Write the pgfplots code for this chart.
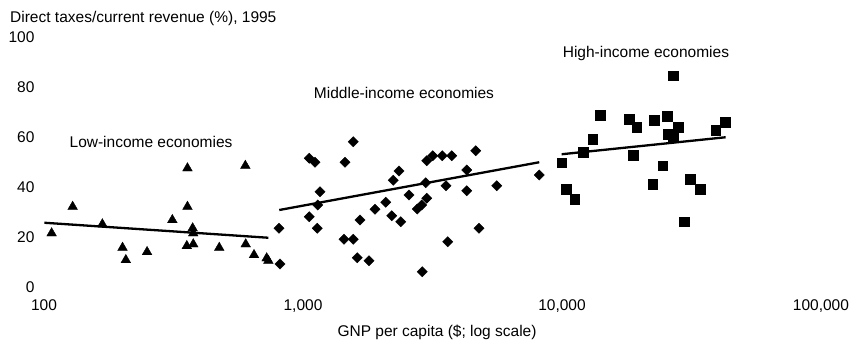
\documentclass[border=0pt]{standalone}
\usepackage{pgfplots}
\pgfplotsset{compat=1.18}
\usepackage{fontspec}
\setmainfont{Liberation Sans}
\newcommand\f{\fontsize{15.5}{18}\selectfont}
\begin{document}
\begin{tikzpicture}
\path[use as bounding box] (-38pt,-50pt) rectangle (815pt,292pt);
\begin{axis}[
  at={(0,0)}, anchor=south west,
  scale only axis, width=812pt, height=260pt,
  xmode=log, xmin=94.8, xmax=129500,
  ymin=-2, ymax=102,
  axis line style={draw=none},
  major tick length=0pt, minor tick length=0pt,
  xtick={100,1000,10000,100000},
  xticklabels={100,{1,000},{10,000},{100,000}},
  minor xtick={},
  ytick={0,20,40,60,80,100},
  yticklabels={0,20,40,60,80,100},
  tick label style={font=\f},
  xticklabel style={yshift=-4pt},
  clip=false,
]
% Low-income
\addplot[only marks, mark=triangle*, mark size=5.6pt, black] coordinates {
(107,21.5) (129,32.1) (168,25.1) (201,15.7) (207,10.8) (250,14.0) (313,26.8)
(358,47.5) (358,32.1) (375,23.5) (377,21.5) (356,16.4) (377,17.1) (475,15.7)
(599,48.5) (601,17.1) (647,12.8) (724,11.5) (735,10.5)};
\addplot[black, line width=2.3pt] coordinates {(100.3,25.7) (735,19.7)};
% Middle-income
\addplot[only marks, mark=square*, mark size=3.6pt, mark options={rotate=45}, black] coordinates {
(808,23.5) (815,9.2) (1058,51.5) (1113,49.9) (1163,38.1) (1140,32.8) (1058,28.1)
(1136,23.5) (1564,58.1) (1453,49.9) (1661,26.8) (1440,19.1) (1564,19.1) (1621,11.7)
(1798,10.5) (1897,31.1) (2086,33.9) (2200,28.5) (2384,26.1) (2231,42.7) (2348,46.4)
(2567,36.8) (2762,31.2) (2872,32.8) (3003,35.5) (2976,41.7) (3003,50.5) (3168,52.5)
(2887,6.1) (3450,52.5) (3751,52.5) (3565,40.5) (3621,18.1) (4286,46.8) (4286,38.5)
(4643,54.5) (4780,23.5) (5596,40.5) (8173,44.8)};
\addplot[black, line width=2.3pt] coordinates {(810,30.8) (8173,49.9)};
% High-income
\addplot[only marks, mark=square*, mark size=4.8pt, black] coordinates {
(26900,84.5) (14020,68.8) (18190,67.2) (19430,63.9) (22660,66.8) (25500,68.4)
(28120,63.9) (25730,61.1) (26900,60.4) (39220,62.8) (42710,65.9) (13140,59.2)
(12080,53.9) (9970,49.7) (18850,52.8) (24480,48.5) (10360,39.2) (11190,35.2)
(22400,41.2) (31210,43.2) (34110,39.2) (29580,26.1)};
\addplot[black, line width=2.3pt] coordinates {(9970,53.1) (42860,59.9)};
\node[font=\f] at (axis cs:259,58) {Low-income economies};
\node[font=\f] at (axis cs:2455,77.6) {Middle-income economies};
\node[font=\f] at (axis cs:21100,93.6) {High-income economies};
\end{axis}
\node[font=\f, anchor=west, inner sep=0pt] at (-28pt,274pt) {Direct taxes/current revenue (\%), 1995};
\node[font=\f] at (399pt,-40pt) {GNP per capita (\$; log scale)};
\end{tikzpicture}
\end{document}
